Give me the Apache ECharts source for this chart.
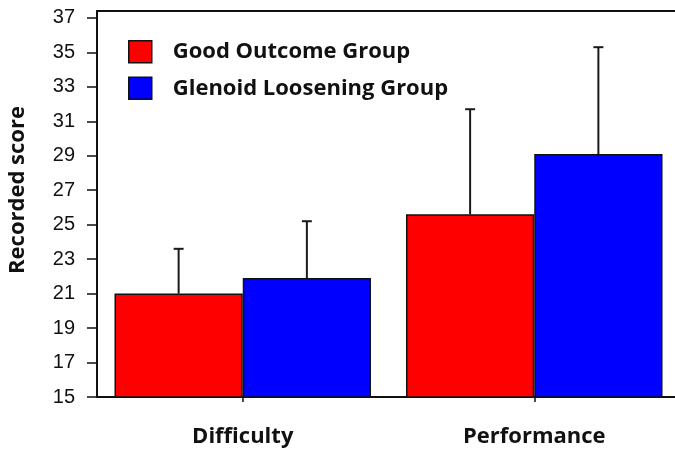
<!DOCTYPE html>
<html>
<head>
<meta charset="utf-8">
<script src="https://cdn.jsdelivr.net/npm/echarts@6/dist/echarts.min.js"></script>
<style>
  html, body { margin: 0; padding: 0; background: #fff; }
  #chart { width: 675px; height: 449px; }
</style>
</head>
<body>
<div id="chart"></div>
<script>
// Mean recorded scores with upper standard deviation
const categories = ['Difficulty', 'Performance'];
const groupNames = ['Good Outcome Group', 'Glenoid Loosening Group'];
const goodOutcome = [21.0, 25.6];
const glenoidLoosening = [21.9, 29.1];
const goodOutcomeUpper = [23.6, 31.7];
const glenoidLooseningUpper = [25.2, 35.3];
const yTicks = [15, 17, 19, 21, 23, 25, 27, 29, 31, 33, 35, 37];

const colors = ['#ff0000', '#0000ff'];
const barShare = 0.44;
const labelFont = '"Open Sans", "Lato", sans-serif';

function errorRenderer(side) {
  return function (params, api) {
    const cat = api.value(0);
    const top = api.coord([cat, api.value(2)]);
    const base = api.coord([cat, api.value(1)]);
    const band = api.size([1, 0])[0];
    const x = top[0] + side * band * barShare / 2;
    const cap = 5;
    const style = { stroke: '#1a1a1a', lineWidth: 2 };
    return {
      type: 'group',
      children: [
        { type: 'line', shape: { x1: x, y1: base[1], x2: x, y2: top[1] }, style: style },
        { type: 'line', shape: { x1: x - cap, y1: top[1], x2: x + cap, y2: top[1] }, style: style }
      ]
    };
  };
}

const chart = echarts.init(document.getElementById('chart'));
chart.setOption({
  animation: false,
  backgroundColor: '#fff',
  grid: { left: 97, right: -5, top: 11, bottom: 52, containLabel: false, outerBoundsMode: 'none' },
  legend: {
    data: groupNames,
    orient: 'vertical',
    left: 128,
    top: 40,
    padding: 0,
    itemWidth: 23,
    itemHeight: 22,
    itemGap: 13,
    icon: 'rect',
    itemStyle: { borderColor: '#111', borderWidth: 1.5 },
    textStyle: {
      fontFamily: labelFont, fontWeight: 'bold', fontSize: 22, color: '#111',
      padding: [0, 0, 0, 16]
    }
  },
  xAxis: [
    {
      type: 'category',
      data: categories,
      axisLine: { lineStyle: { color: '#111', width: 2 } },
      axisTick: { show: true, length: 5, alignWithLabel: true, lineStyle: { color: '#111', width: 1.5 } },
      axisLabel: {
        fontFamily: labelFont, fontWeight: 'bold', fontSize: 22, color: '#111', margin: 29
      }
    },
    {
      type: 'category',
      position: 'top',
      data: categories,
      axisLine: { lineStyle: { color: '#111', width: 2 } },
      axisTick: { show: false },
      axisLabel: { show: false }
    }
  ],
  yAxis: {
    type: 'value',
    min: 15,
    max: 37.4,
    name: 'Recorded score',
    nameLocation: 'middle',
    nameGap: 68,
    nameTextStyle: {
      fontFamily: labelFont, fontWeight: 'bold', fontSize: 22, color: '#111',
      padding: [0, 0, 0, 28]
    },
    axisLine: { show: true, lineStyle: { color: '#111', width: 2 } },
    axisTick: { show: true, length: 10, customValues: yTicks, lineStyle: { color: '#111', width: 1.5 } },
    axisLabel: {
      customValues: yTicks,
      fontFamily: '"Liberation Sans", Arial, sans-serif',
      fontSize: 20,
      color: '#111',
      margin: 22
    },
    splitLine: { show: false }
  },
  series: [
    {
      name: groupNames[0],
      type: 'bar',
      data: goodOutcome,
      barWidth: (barShare * 100) + '%',
      barGap: '0%',
      itemStyle: { color: colors[0], borderColor: '#111', borderWidth: 1.5 }
    },
    {
      name: groupNames[1],
      type: 'bar',
      data: glenoidLoosening,
      barWidth: (barShare * 100) + '%',
      barGap: '0%',
      itemStyle: { color: colors[1], borderColor: '#111', borderWidth: 1.5 }
    },
    {
      type: 'custom',
      renderItem: errorRenderer(-1),
      data: categories.map((c, i) => [i, goodOutcome[i], goodOutcomeUpper[i]]),
      z: 3
    },
    {
      type: 'custom',
      renderItem: errorRenderer(1),
      data: categories.map((c, i) => [i, glenoidLoosening[i], glenoidLooseningUpper[i]]),
      z: 3
    }
  ]
});
</script>
</body>
</html>
